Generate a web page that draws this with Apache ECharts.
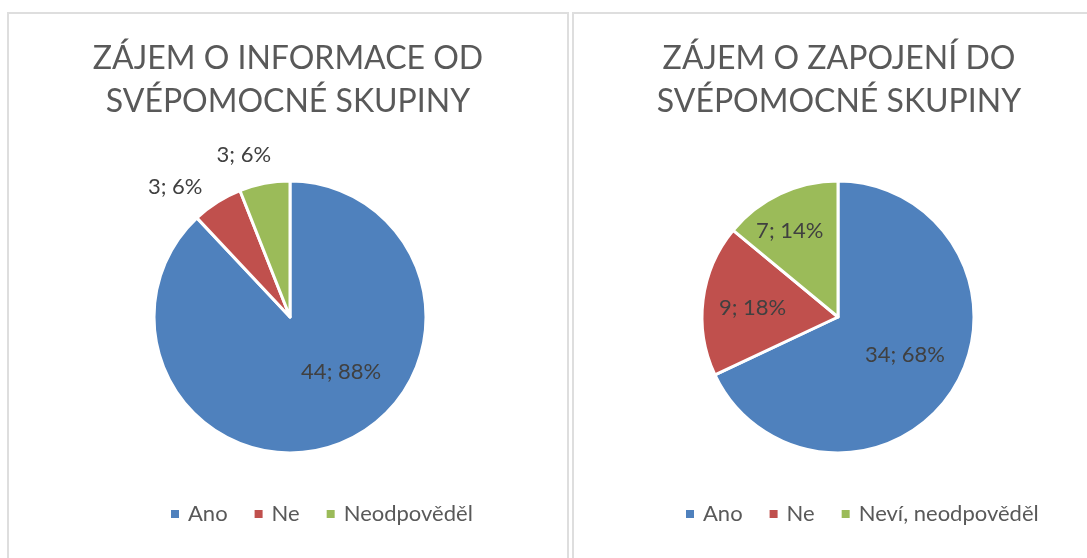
<!DOCTYPE html>
<html>
<head>
<meta charset="utf-8">
<script src="https://cdn.jsdelivr.net/npm/echarts@6/dist/echarts.min.js"></script>
<style>
    html, body { margin: 0; padding: 0; background: #fff; overflow: hidden; width: 1087px; height: 558px; }
    .panel { position: absolute; top: 12px; height: 560px; border: 2px solid #dedede; box-sizing: border-box; }
    #left { left: 7px; width: 562px; }
    #right { left: 572px; width: 534px; }
</style>
</head>
<body>
<div id="left" class="panel"></div>
<div id="right" class="panel"></div>
<script>
// data
var colors = ['#4f81bd', '#c0504d', '#9bbb59'];

var infoTitle = 'ZÁJEM O INFORMACE OD\nSVÉPOMOCNÉ SKUPINY';
var infoNames = ['Ano', 'Ne', 'Neodpověděl'];
var infoValues = [44, 3, 3];

var joinTitle = 'ZÁJEM O ZAPOJENÍ DO\nSVÉPOMOCNÉ SKUPINY';
var joinNames = ['Ano', 'Ne', 'Neví, neodpověděl'];
var joinValues = [34, 9, 7];

var fontFamily = 'Lato, "Open Sans", sans-serif';

// posun popisků jako v Excelu: vodorovně padding [0, vpravo, 0, vlevo], nahoru prázdné řádky
var infoLabelPad = [[0, 0, 0, 50], [0, -4, 0, 0], [0, -19, 0, 0]];
var infoLabelLift = [1, 0, 1];
var joinLabelPad = [[0, 0, 0, 14], [0, 30, 0, 0], [0, 36, 0, 0]];
var joinLabelLift = [0, 0, 2];

/**
 * koláčový graf
 * id: div, title: nadpis, names/values: data, outside: indexy s popiskem venku
 */
function chart_pie(id, title, names, values, outside, pads, lifts, cx, legendLeft) {
    var main = echarts.init(document.getElementById(id));
    var data = [];
    for (var i = 0; i < names.length; i++) {
        var fmt = '{c}; {d}%';
        for (var k = 0; k < lifts[i]; k++) fmt += '\n ';
        var item = { name: names[i], value: values[i], label: { padding: pads[i], formatter: fmt } };
        if (outside.indexOf(i) >= 0) {
            item.label.position = 'outside';
        }
        data.push(item);
    }
    var option = {
        color: colors,
        title: {
            text: title,
            left: 'center',
            top: 18,
            textStyle: {
                fontFamily: fontFamily,
                fontSize: 32,
                fontWeight: 'normal',
                color: '#595959',
                lineHeight: 43
            }
        },
        legend: {
            data: names,
            bottom: 40,
            left: legendLeft,
            icon: 'rect',
            itemWidth: 10,
            itemHeight: 10,
            itemGap: 25,
            textStyle: {
                fontFamily: fontFamily,
                fontSize: 22,
                color: '#595959',
                padding: [0, 0, 0, 3]
            }
        },
        series: [
            {
                type: 'pie',
                center: [cx, 303],
                radius: 136,
                startAngle: 90,
                clockwise: true,
                silent: true,
                avoidLabelOverlap: false,
                itemStyle: {
                    borderColor: '#fff',
                    borderWidth: 3
                },
                label: {
                    show: true,
                    position: 'inside',
                    fontFamily: fontFamily,
                    fontSize: 22,
                    lineHeight: 22,
                    color: '#404040'
                },
                labelLine: {
                    show: false,
                    length: 18,
                    length2: 4
                },
                data: data
            }
        ]
    };
    main.setOption(option);
}

chart_pie('left', infoTitle, infoNames, infoValues, [1, 2], infoLabelPad, infoLabelLift, 281, 155);
chart_pie('right', joinTitle, joinNames, joinValues, [], joinLabelPad, joinLabelLift, 264, 105);
</script>
</body>
</html>
